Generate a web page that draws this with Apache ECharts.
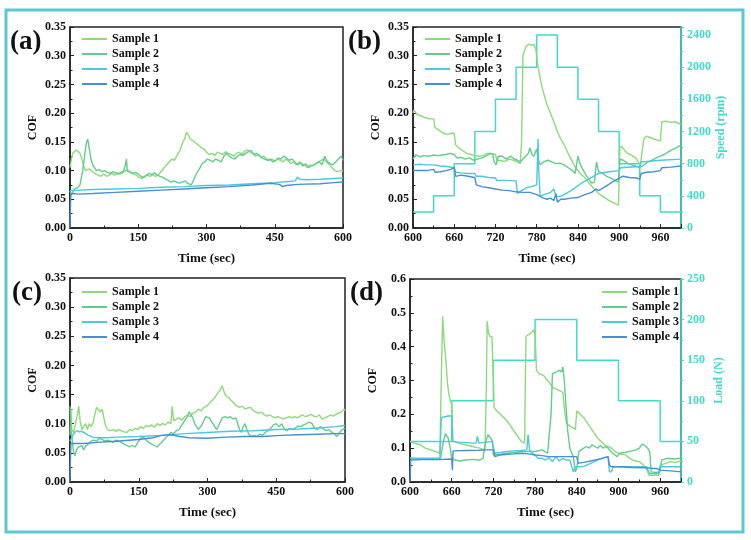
<!DOCTYPE html>
<html>
<head>
<meta charset="utf-8">
<script src="https://cdn.jsdelivr.net/npm/echarts@6/dist/echarts.min.js"></script>
<style>
  html, body { margin: 0; padding: 0; background: #fff; }
  #main { width: 751px; height: 540px; }
</style>
</head>
<body>
<div id="main"></div>
<script>
// sample names and colours
var sampleNames = ['Sample 1', 'Sample 2', 'Sample 3', 'Sample 4'];
var sampleColors = ['#8ed97a', '#63cc8d', '#4cc9dc', '#4a8fd0'];
var stepColor = '#40dcc8';

// tick labels
var timeTicksA = [0, 150, 300, 450, 600];
var timeTicksB = [600, 660, 720, 780, 840, 900, 960];

// (a) COF, 0-600 s
var aS1 = [[0,0.105],[3,0.12],[6,0.13],[10,0.128],[14,0.136],[18,0.138],[22,0.13],[26,0.12],[30,0.108],[34,0.1],[38,0.097],[42,0.103],[46,0.1],[50,0.098],[56,0.094],[62,0.092],[68,0.09],[74,0.094],[80,0.09],[86,0.092],[92,0.095],[98,0.092],[104,0.096],[110,0.094],[116,0.096],[122,0.1],[128,0.098],[134,0.096],[140,0.094],[146,0.092],[152,0.088],[158,0.086],[164,0.09],[170,0.092],[176,0.09],[182,0.093],[188,0.09],[194,0.092],[200,0.098],[206,0.104],[212,0.11],[218,0.115],[224,0.12],[230,0.118],[236,0.128],[242,0.135],[248,0.15],[252,0.155],[256,0.167],[260,0.162],[264,0.155],[270,0.152],[276,0.148],[282,0.145],[288,0.14],[294,0.138],[300,0.132],[306,0.128],[312,0.13],[318,0.126],[324,0.132],[330,0.13],[336,0.128],[342,0.133],[348,0.13],[354,0.128],[360,0.125],[366,0.13],[372,0.132],[378,0.128],[384,0.134],[390,0.136],[396,0.132],[402,0.13],[408,0.125],[414,0.128],[420,0.123],[426,0.125],[432,0.12],[438,0.118],[444,0.12],[450,0.116],[456,0.12],[462,0.118],[468,0.115],[474,0.12],[480,0.117],[486,0.112],[492,0.115],[498,0.11],[504,0.115],[510,0.112],[516,0.11],[522,0.105],[528,0.11],[534,0.108],[540,0.112],[546,0.115],[552,0.118],[558,0.12],[564,0.115],[570,0.11],[576,0.105],[582,0.1],[588,0.098],[594,0.1],[600,0.1]];
var aS2 = [[0,0.065],[3,0.058],[6,0.062],[10,0.068],[16,0.07],[22,0.075],[28,0.1],[32,0.125],[36,0.148],[39,0.155],[42,0.14],[46,0.12],[50,0.11],[54,0.105],[58,0.1],[64,0.102],[70,0.098],[76,0.1],[82,0.097],[88,0.095],[94,0.098],[100,0.096],[106,0.094],[112,0.097],[118,0.1],[122,0.11],[124,0.12],[126,0.1],[132,0.098],[138,0.095],[144,0.097],[150,0.094],[156,0.09],[162,0.088],[168,0.092],[174,0.095],[180,0.093],[186,0.096],[192,0.092],[198,0.09],[204,0.088],[210,0.085],[216,0.083],[222,0.08],[228,0.082],[234,0.08],[240,0.078],[246,0.08],[250,0.078],[254,0.082],[258,0.078],[262,0.077],[266,0.075],[270,0.08],[274,0.088],[278,0.095],[282,0.1],[286,0.105],[290,0.112],[296,0.115],[302,0.12],[308,0.118],[314,0.115],[320,0.12],[326,0.118],[332,0.115],[338,0.125],[344,0.13],[350,0.125],[356,0.122],[362,0.12],[368,0.125],[374,0.128],[380,0.126],[386,0.13],[392,0.133],[398,0.135],[404,0.128],[410,0.13],[416,0.126],[422,0.122],[428,0.12],[434,0.118],[440,0.12],[446,0.115],[452,0.118],[458,0.122],[464,0.12],[470,0.125],[476,0.122],[482,0.118],[488,0.12],[494,0.115],[500,0.11],[506,0.113],[512,0.108],[518,0.112],[524,0.105],[530,0.108],[536,0.11],[542,0.113],[548,0.115],[554,0.11],[560,0.125],[566,0.115],[572,0.112],[578,0.11],[584,0.115],[590,0.12],[596,0.125],[600,0.118]];
var aS3 = [[0,0.065],[2,0.066],[50,0.067],[100,0.068],[150,0.069],[200,0.071],[250,0.072],[300,0.074],[350,0.075],[400,0.077],[450,0.079],[480,0.081],[495,0.082],[500,0.089],[505,0.085],[520,0.084],[550,0.085],[600,0.087]];
var aS4 = [[0,0.0],[1,0.04],[2,0.06],[20,0.059],[50,0.06],[100,0.062],[150,0.064],[200,0.066],[250,0.068],[300,0.07],[350,0.072],[400,0.075],[440,0.078],[460,0.076],[468,0.072],[475,0.074],[500,0.076],[550,0.077],[580,0.079],[600,0.08]];

// (b) COF, 600-990 s, and speed (rpm)
var bS1 = [[600,0.2],[601,0.205],[606,0.198],[612,0.195],[618,0.192],[624,0.19],[630,0.19],[632,0.175],[638,0.17],[644,0.165],[650,0.163],[656,0.165],[660,0.165],[662,0.145],[666,0.14],[672,0.135],[678,0.13],[684,0.128],[690,0.126],[696,0.125],[702,0.126],[708,0.13],[714,0.13],[720,0.128],[722,0.118],[728,0.117],[734,0.116],[740,0.12],[746,0.118],[752,0.115],[756,0.112],[758,0.15],[760,0.3],[764,0.315],[768,0.32],[772,0.318],[776,0.32],[779,0.31],[782,0.28],[786,0.255],[790,0.235],[795,0.215],[800,0.2],[805,0.185],[810,0.168],[815,0.155],[820,0.145],[825,0.132],[830,0.12],[835,0.108],[840,0.1],[845,0.093],[850,0.088],[855,0.08],[860,0.073],[865,0.066],[870,0.06],[875,0.056],[880,0.052],[885,0.048],[890,0.045],[895,0.042],[899,0.04],[901,0.14],[904,0.142],[908,0.135],[912,0.13],[918,0.127],[924,0.122],[928,0.115],[931,0.11],[933,0.13],[936,0.155],[940,0.16],[944,0.158],[950,0.155],[955,0.153],[960,0.152],[962,0.185],[968,0.186],[975,0.184],[982,0.185],[990,0.18]];
var bS2 = [[600,0.12],[604,0.128],[610,0.124],[616,0.126],[622,0.125],[630,0.127],[636,0.126],[642,0.127],[648,0.128],[654,0.13],[660,0.128],[664,0.122],[670,0.123],[676,0.12],[682,0.122],[688,0.118],[694,0.12],[700,0.122],[706,0.125],[712,0.13],[716,0.128],[718,0.115],[721,0.11],[724,0.125],[730,0.125],[736,0.12],[742,0.125],[748,0.12],[752,0.118],[756,0.115],[760,0.12],[764,0.125],[768,0.13],[770,0.14],[773,0.128],[776,0.125],[780,0.138],[782,0.12],[785,0.11],[790,0.115],[796,0.118],[802,0.115],[808,0.112],[814,0.113],[820,0.11],[826,0.105],[832,0.1],[836,0.095],[840,0.125],[843,0.112],[848,0.1],[852,0.092],[856,0.085],[860,0.078],[864,0.08],[867,0.115],[870,0.098],[876,0.095],[882,0.09],[888,0.087],[894,0.083],[899,0.08],[901,0.12],[906,0.118],[912,0.113],[918,0.11],[924,0.108],[930,0.105],[936,0.11],[942,0.115],[948,0.118],[954,0.122],[960,0.125],[966,0.128],[972,0.133],[978,0.137],[984,0.14],[990,0.145]];
var bS3 = [[600,0.11],[610,0.111],[620,0.11],[630,0.11],[640,0.108],[650,0.107],[660,0.105],[662,0.097],[670,0.096],[680,0.095],[690,0.095],[692,0.09],[700,0.09],[710,0.088],[720,0.087],[722,0.083],[735,0.083],[750,0.082],[752,0.06],[758,0.065],[765,0.07],[772,0.072],[780,0.075],[782,0.155],[783,0.1],[785,0.055],[790,0.058],[795,0.06],[800,0.062],[805,0.068],[808,0.055],[815,0.055],[830,0.065],[845,0.078],[860,0.088],[870,0.095],[885,0.098],[900,0.1],[902,0.105],[930,0.107],[932,0.115],[960,0.118],[990,0.12]];
var bS4 = [[600,0.1],[601,0.102],[610,0.1],[620,0.1],[630,0.102],[632,0.097],[640,0.098],[648,0.1],[655,0.102],[660,0.105],[662,0.09],[670,0.092],[680,0.09],[690,0.088],[692,0.075],[700,0.072],[710,0.07],[720,0.068],[730,0.066],[740,0.065],[750,0.063],[760,0.062],[770,0.062],[780,0.058],[785,0.055],[790,0.052],[795,0.05],[800,0.052],[805,0.048],[808,0.06],[810,0.045],[815,0.05],[820,0.05],[830,0.052],[840,0.053],[850,0.058],[860,0.062],[866,0.068],[870,0.065],[880,0.072],[890,0.08],[900,0.087],[905,0.09],[915,0.088],[925,0.087],[930,0.085],[932,0.095],[940,0.097],[950,0.098],[960,0.1],[962,0.105],[975,0.106],[990,0.108]];
var speedSteps = [[600,200],[630,400],[660,800],[690,1200],[720,1600],[750,2000],[780,2400],[810,2000],[840,1600],[870,1200],[900,800],[930,400],[960,200],[990,200]];

// (c) COF, 0-600 s
var cS1 = [[0,0.08],[2,0.125],[4,0.09],[8,0.085],[12,0.1],[16,0.115],[19,0.13],[22,0.105],[26,0.09],[30,0.095],[34,0.1],[38,0.09],[42,0.1],[46,0.095],[50,0.1],[54,0.115],[58,0.128],[62,0.13],[66,0.12],[70,0.125],[74,0.11],[78,0.095],[82,0.09],[88,0.088],[94,0.09],[100,0.087],[106,0.09],[112,0.088],[118,0.086],[124,0.085],[130,0.09],[136,0.088],[142,0.092],[148,0.09],[154,0.095],[160,0.092],[166,0.097],[172,0.095],[178,0.098],[184,0.094],[190,0.1],[196,0.097],[202,0.1],[208,0.098],[214,0.103],[220,0.1],[223,0.13],[226,0.105],[232,0.108],[238,0.11],[244,0.106],[250,0.112],[256,0.115],[262,0.112],[268,0.118],[274,0.12],[280,0.125],[286,0.122],[292,0.128],[298,0.13],[304,0.135],[310,0.14],[316,0.145],[322,0.152],[328,0.158],[332,0.165],[336,0.155],[340,0.148],[346,0.145],[352,0.14],[358,0.135],[364,0.13],[370,0.128],[376,0.13],[382,0.125],[388,0.127],[394,0.128],[400,0.122],[406,0.12],[412,0.118],[418,0.12],[424,0.115],[430,0.113],[436,0.115],[442,0.112],[448,0.11],[454,0.112],[460,0.11],[466,0.108],[472,0.11],[478,0.112],[484,0.11],[490,0.112],[496,0.11],[502,0.113],[508,0.115],[514,0.112],[520,0.114],[526,0.116],[532,0.113],[538,0.112],[544,0.115],[550,0.108],[556,0.11],[562,0.112],[568,0.115],[574,0.113],[580,0.116],[586,0.118],[592,0.12],[598,0.125],[600,0.122]];
var cS2 = [[0,0.13],[2,0.09],[5,0.07],[8,0.05],[11,0.045],[14,0.055],[18,0.06],[22,0.058],[26,0.062],[30,0.055],[34,0.062],[40,0.065],[46,0.07],[52,0.072],[58,0.07],[64,0.075],[70,0.073],[76,0.07],[82,0.072],[88,0.07],[94,0.068],[100,0.072],[106,0.07],[112,0.068],[118,0.065],[124,0.063],[130,0.06],[136,0.063],[142,0.06],[148,0.068],[154,0.075],[160,0.077],[166,0.072],[172,0.068],[178,0.065],[184,0.063],[190,0.06],[196,0.065],[202,0.07],[208,0.075],[214,0.08],[220,0.085],[226,0.083],[232,0.088],[238,0.09],[244,0.098],[250,0.105],[256,0.112],[260,0.12],[264,0.118],[268,0.11],[272,0.1],[276,0.095],[280,0.09],[284,0.092],[288,0.098],[292,0.105],[296,0.112],[300,0.115],[304,0.11],[308,0.105],[312,0.1],[316,0.095],[320,0.09],[326,0.1],[332,0.11],[338,0.112],[344,0.11],[350,0.112],[356,0.108],[362,0.11],[366,0.1],[370,0.09],[374,0.085],[378,0.095],[382,0.1],[386,0.09],[390,0.082],[396,0.078],[402,0.08],[408,0.078],[414,0.082],[420,0.08],[426,0.085],[432,0.088],[438,0.092],[444,0.098],[450,0.1],[456,0.095],[462,0.1],[468,0.09],[474,0.088],[480,0.092],[486,0.09],[492,0.093],[498,0.096],[504,0.095],[510,0.098],[516,0.1],[522,0.103],[528,0.1],[534,0.092],[540,0.09],[546,0.095],[552,0.092],[558,0.088],[564,0.09],[570,0.086],[576,0.083],[582,0.078],[588,0.085],[594,0.09],[600,0.092]];
var cS3 = [[0,0.07],[3,0.075],[6,0.08],[10,0.085],[15,0.088],[20,0.086],[25,0.087],[30,0.085],[40,0.08],[50,0.077],[60,0.076],[80,0.076],[100,0.077],[150,0.078],[200,0.08],[250,0.083],[300,0.085],[350,0.087],[400,0.088],[450,0.09],[500,0.091],[550,0.093],[580,0.095],[600,0.097]];
var cS4 = [[0,0.0],[1,0.04],[2,0.066],[30,0.066],[60,0.068],[100,0.07],[150,0.073],[180,0.076],[200,0.08],[220,0.081],[240,0.078],[260,0.076],[300,0.075],[340,0.077],[380,0.078],[420,0.078],[460,0.08],[500,0.081],[540,0.082],[580,0.083],[600,0.083]];

// (d) COF, 600-990 s, and load (N)
var dS1 = [[600,0.12],[606,0.115],[615,0.11],[622,0.1],[630,0.095],[637,0.09],[643,0.085],[645,0.3],[647,0.49],[649,0.42],[652,0.35],[654,0.29],[656,0.26],[658,0.24],[660,0.23],[662,0.12],[670,0.115],[680,0.11],[690,0.105],[700,0.1],[708,0.095],[710,0.3],[711,0.475],[713,0.44],[715,0.43],[718,0.43],[720,0.3],[721,0.22],[725,0.21],[730,0.2],[735,0.19],[740,0.18],[745,0.165],[750,0.15],[755,0.135],[760,0.12],[765,0.115],[766,0.3],[767,0.43],[770,0.435],[774,0.44],[778,0.45],[780,0.44],[782,0.33],[786,0.32],[792,0.315],[796,0.305],[800,0.295],[805,0.28],[810,0.275],[815,0.27],[820,0.265],[822,0.22],[825,0.175],[830,0.165],[835,0.16],[838,0.155],[840,0.21],[845,0.2],[850,0.19],[855,0.175],[860,0.16],[865,0.145],[870,0.13],[875,0.12],[880,0.11],[885,0.105],[890,0.1],[895,0.09],[900,0.085],[905,0.082],[910,0.08],[915,0.072],[920,0.065],[925,0.062],[930,0.06],[935,0.052],[940,0.04],[944,0.02],[950,0.02],[958,0.02],[960,0.05],[968,0.055],[975,0.06],[982,0.058],[990,0.062]];
var dS2 = [[600,0.07],[610,0.069],[620,0.068],[630,0.068],[640,0.068],[644,0.07],[648,0.12],[651,0.143],[655,0.13],[658,0.1],[660,0.07],[665,0.065],[672,0.062],[680,0.065],[690,0.067],[700,0.065],[705,0.07],[708,0.11],[712,0.14],[716,0.13],[719,0.12],[720,0.08],[730,0.082],[740,0.085],[750,0.087],[760,0.09],[770,0.09],[780,0.09],[790,0.095],[798,0.085],[800,0.08],[803,0.2],[805,0.32],[810,0.325],[815,0.33],[818,0.325],[820,0.34],[822,0.3],[824,0.24],[827,0.15],[830,0.1],[835,0.075],[838,0.03],[840,0.04],[843,0.09],[846,0.095],[850,0.1],[854,0.105],[858,0.1],[862,0.11],[866,0.105],[870,0.1],[874,0.108],[878,0.1],[882,0.105],[885,0.1],[890,0.088],[895,0.08],[898,0.075],[900,0.07],[902,0.085],[908,0.087],[915,0.09],[920,0.092],[925,0.095],[930,0.1],[934,0.112],[938,0.108],[942,0.1],[945,0.09],[947,0.03],[955,0.028],[960,0.03],[962,0.065],[970,0.07],[980,0.068],[990,0.07]];
var dS3 = [[600,0.07],[620,0.07],[643,0.07],[645,0.19],[650,0.193],[655,0.195],[660,0.195],[661,0.12],[670,0.118],[680,0.117],[690,0.115],[695,0.115],[697,0.135],[699,0.115],[710,0.118],[718,0.12],[720,0.12],[722,0.085],[730,0.087],[740,0.09],[750,0.092],[760,0.093],[768,0.095],[770,0.14],[772,0.095],[776,0.085],[780,0.08],[784,0.07],[790,0.07],[795,0.065],[800,0.072],[805,0.06],[810,0.075],[815,0.062],[820,0.07],[825,0.065],[830,0.065],[835,0.03],[838,0.045],[840,0.045],[850,0.046],[860,0.055],[870,0.065],[880,0.072],[885,0.075],[887,0.03],[890,0.03],[892,0.045],[900,0.045],[920,0.045],[940,0.045],[945,0.025],[955,0.025],[958,0.025],[960,0.045],[975,0.045],[990,0.045]];
var dS4 = [[600,0.0],[601,0.065],[620,0.066],[640,0.066],[660,0.068],[661,0.035],[662,0.092],[680,0.093],[700,0.094],[710,0.095],[720,0.095],[722,0.075],[730,0.08],[740,0.082],[750,0.083],[760,0.085],[770,0.083],[780,0.08],[790,0.078],[800,0.075],[810,0.075],[820,0.075],[830,0.075],[840,0.075],[842,0.055],[850,0.058],[860,0.062],[870,0.067],[880,0.072],[885,0.075],[887,0.05],[890,0.045],[900,0.045],[920,0.043],[940,0.042],[950,0.04],[955,0.04],[960,0.035],[962,0.035],[975,0.033],[990,0.03]];
var loadSteps = [[600,50],[660,100],[720,150],[780,200],[840,150],[900,100],[960,50],[990,50]];

var FONT = 'Liberation Serif';
var labelStyle = { fontFamily: FONT, fontWeight: 'bold', fontSize: 12, color: '#111' };
var nameStyle = { fontFamily: FONT, fontWeight: 'bold', fontSize: 12, color: '#111' };

function xAxisFor(grid, min, max, interval) {
  return {
    type: 'value', gridIndex: grid, min: min, max: max, interval: interval,
    name: 'Time (sec)', nameLocation: 'middle', nameGap: 24,
    nameTextStyle: Object.assign({}, nameStyle, { fontSize: 13 }),
    axisLine: { lineStyle: { color: '#222', width: 1.5 } },
    axisTick: { inside: true, length: 4, lineStyle: { color: '#222' } },
    minorTick: { show: true, splitNumber: 2, length: 2.5, lineStyle: { color: '#222' } },
    axisLabel: Object.assign({}, labelStyle, { margin: 4, showMaxLabel: max % interval === 0 }),
    splitLine: { show: false }
  };
}

function cofAxis(grid, max, interval, digits) {
  return {
    type: 'value', gridIndex: grid, min: 0, max: max, interval: interval,
    name: 'COF', nameLocation: 'middle', nameGap: 31, nameTextStyle: nameStyle,
    axisLine: { show: true, lineStyle: { color: '#222', width: 1.5 } },
    axisTick: { inside: true, length: 4, lineStyle: { color: '#222' } },
    minorTick: { show: true, splitNumber: 2, length: 2.5, lineStyle: { color: '#222' } },
    axisLabel: Object.assign({}, labelStyle, { margin: 4, formatter: function (v) { return v.toFixed(digits); } }),
    splitLine: { show: false }
  };
}

function rightAxis(grid, name, max, interval) {
  return {
    type: 'value', gridIndex: grid, position: 'right', min: 0, max: max, interval: interval,
    name: name, nameLocation: 'middle', nameGap: 32,
    nameTextStyle: Object.assign({}, nameStyle, { color: stepColor }),
    axisLine: { show: true, lineStyle: { color: stepColor, width: 1.5 } },
    axisTick: { show: true, inside: false, length: 3, lineStyle: { color: stepColor } },
    minorTick: { show: true, splitNumber: 2, length: 2, lineStyle: { color: stepColor } },
    axisLabel: Object.assign({}, labelStyle, {
      color: stepColor, margin: 6, showMaxLabel: max % interval === 0,
      formatter: function (v) { return String(v); }
    }),
    splitLine: { show: false }
  };
}

function cofSeries(list, xi, yi) {
  return list.map(function (d, i) {
    return {
      name: sampleNames[i], type: 'line', xAxisIndex: xi, yAxisIndex: yi,
      data: d, showSymbol: false, symbol: 'none', color: sampleColors[i],
      lineStyle: { width: 1.4 }, z: 3
    };
  });
}

function legendAt(left, top) {
  return {
    data: sampleNames.map(function (n) { return { name: n, icon: 'rect' }; }),
    orient: 'vertical', left: left, top: top,
    itemWidth: 25, itemHeight: 2, itemGap: 3,
    textStyle: { fontFamily: FONT, fontWeight: 'bold', fontSize: 12, color: '#111', lineHeight: 12 },
    selectedMode: false
  };
}

var gridBox = { show: true, borderColor: '#222', borderWidth: 1.5, backgroundColor: 'transparent' };

var chart = echarts.init(document.getElementById('main'));
chart.setOption({
  animation: false,
  backgroundColor: '#fff',
  grid: [
    Object.assign({ left: 70, top: 27, width: 273, height: 201 }, gridBox),
    Object.assign({ left: 413, top: 27, width: 268, height: 201 }, gridBox),
    Object.assign({ left: 70, top: 278, width: 275, height: 204 }, gridBox),
    Object.assign({ left: 410, top: 279, width: 271, height: 203 }, gridBox)
  ],
  xAxis: [
    xAxisFor(0, 0, 600, 150),
    xAxisFor(1, 600, 990, 60),
    xAxisFor(2, 0, 600, 150),
    xAxisFor(3, 600, 990, 60)
  ],
  yAxis: [
    cofAxis(0, 0.35, 0.05, 2),
    cofAxis(1, 0.35, 0.05, 2),
    rightAxis(1, 'Speed (rpm)', 2500, 400),
    cofAxis(2, 0.35, 0.05, 2),
    cofAxis(3, 0.6, 0.1, 1),
    rightAxis(3, 'Load (N)', 250, 50)
  ],
  legend: [
    legendAt(77, 28),
    legendAt(420, 28),
    legendAt(77, 281),
    legendAt(597, 281)
  ],
  series: [].concat(
    cofSeries([aS1, aS2, aS3, aS4], 0, 0),
    [{ name: 'Speed', type: 'line', xAxisIndex: 1, yAxisIndex: 2, data: speedSteps, step: 'end',
       showSymbol: false, symbol: 'none', color: stepColor, lineStyle: { width: 1.5 }, z: 2 }],
    cofSeries([bS1, bS2, bS3, bS4], 1, 1),
    cofSeries([cS1, cS2, cS3, cS4], 2, 3),
    [{ name: 'Load', type: 'line', xAxisIndex: 3, yAxisIndex: 5, data: loadSteps, step: 'end',
       showSymbol: false, symbol: 'none', color: stepColor, lineStyle: { width: 1.5 }, z: 2 }],
    cofSeries([dS1, dS2, dS3, dS4], 3, 4)
  ),
  graphic: [
    { type: 'rect', shape: { x: 6, y: 10, width: 737, height: 522 }, silent: true,
      style: { fill: 'none', stroke: '#5cc8d2', lineWidth: 3 } },
    { type: 'text', left: 10, top: 29, style: { text: '(a)', font: 'bold 27px "Liberation Serif"', fill: '#111' } },
    { type: 'text', left: 348, top: 29, style: { text: '(b)', font: 'bold 27px "Liberation Serif"', fill: '#111' } },
    { type: 'text', left: 12, top: 280, style: { text: '(c)', font: 'bold 27px "Liberation Serif"', fill: '#111' } },
    { type: 'text', left: 350, top: 280, style: { text: '(d)', font: 'bold 27px "Liberation Serif"', fill: '#111' } }
  ]
});
</script>
</body>
</html>
